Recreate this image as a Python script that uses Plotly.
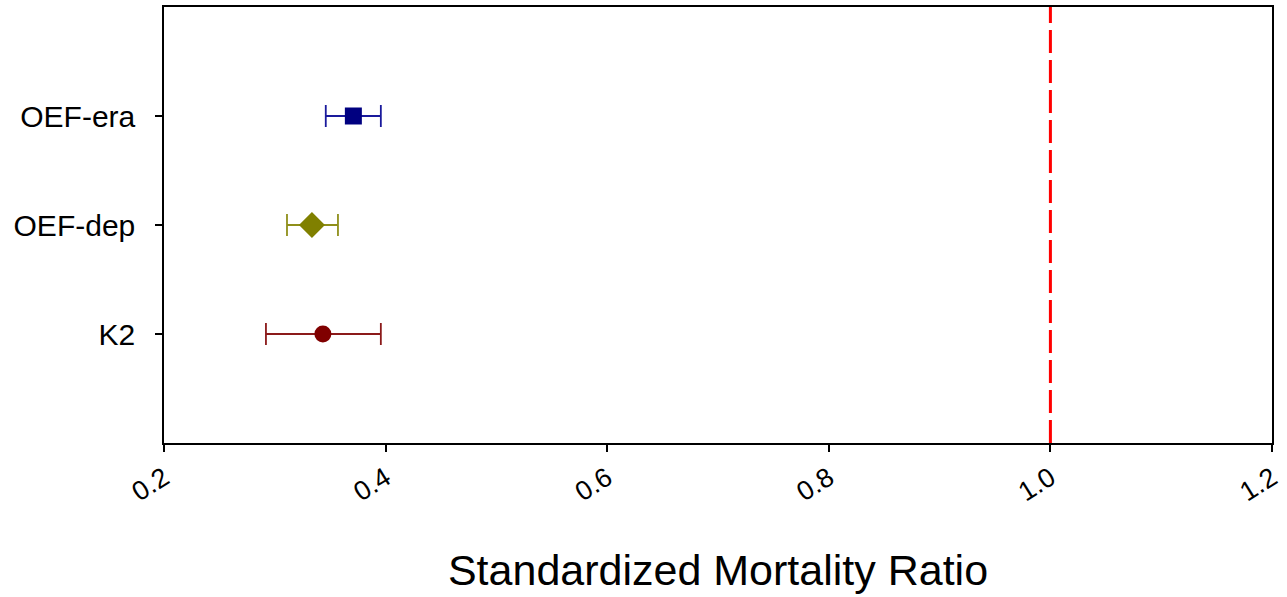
import plotly.graph_objects as go

# Standardized mortality ratios with 95% confidence limits
labels = ["K2", "OEF-dep", "OEF-era"]
smr = [0.3434, 0.3335, 0.3709]
lower = [0.292, 0.311, 0.346]
upper = [0.3957, 0.357, 0.3957]
positions = [1, 2, 3]
symbols = ["circle", "diamond", "square"]
marker_colors = ["#800000", "#808000", "#000080"]
bar_colors = ["#8b1a1a", "#8f8f1a", "#1a1a9c"]
x_ticks = [0.2, 0.4, 0.6, 0.8, 1.0, 1.2]
x_tick_text = ["0.2", "0.4", "0.6", "0.8", "1.0", "1.2"]
reference_smr = 1.0

fig = go.Figure()
for i in range(len(labels)):
    fig.add_trace(go.Scatter(
        x=[smr[i]], y=[positions[i]],
        mode="markers",
        marker=dict(symbol=symbols[i], color=marker_colors[i],
                    size=17 if symbols[i] != "diamond" else 20,
                    line=dict(width=0)),
        error_x=dict(type="data", symmetric=False,
                     array=[upper[i] - smr[i]], arrayminus=[smr[i] - lower[i]],
                     color=bar_colors[i], thickness=1.8, width=11),
        showlegend=False,
    ))

fig.add_shape(type="line", x0=reference_smr, x1=reference_smr, y0=0, y1=1,
              xref="x", yref="paper",
              line=dict(color="#ff0000", width=3, dash="23px,7px"))

fig.update_layout(
    width=1287, height=597,
    margin=dict(l=164, r=14, t=5, b=154),
    paper_bgcolor="white", plot_bgcolor="white",
    font=dict(family="Liberation Sans, Arial, sans-serif", color="black"),
    xaxis=dict(
        range=[0.2, 1.2], tickvals=x_ticks, ticktext=x_tick_text,
        tickangle=-32, ticks="outside", ticklen=7, tickwidth=1.5,
        tickcolor="black", tickfont=dict(size=27),
        showline=True, linecolor="black", linewidth=1.5, mirror=True,
        showgrid=False, zeroline=False,
        title=dict(text="Standardized Mortality Ratio", font=dict(size=43), standoff=49),
    ),
    yaxis=dict(
        range=[0, 4], tickvals=positions, ticktext=labels,
        ticks="outside", ticklen=7, tickwidth=1.5, tickcolor="black",
        tickfont=dict(size=30), ticklabelstandoff=14,
        showline=True, linecolor="black", linewidth=1.5, mirror=True,
        showgrid=False, zeroline=False,
    ),
)

fig.write_html("out.html")
